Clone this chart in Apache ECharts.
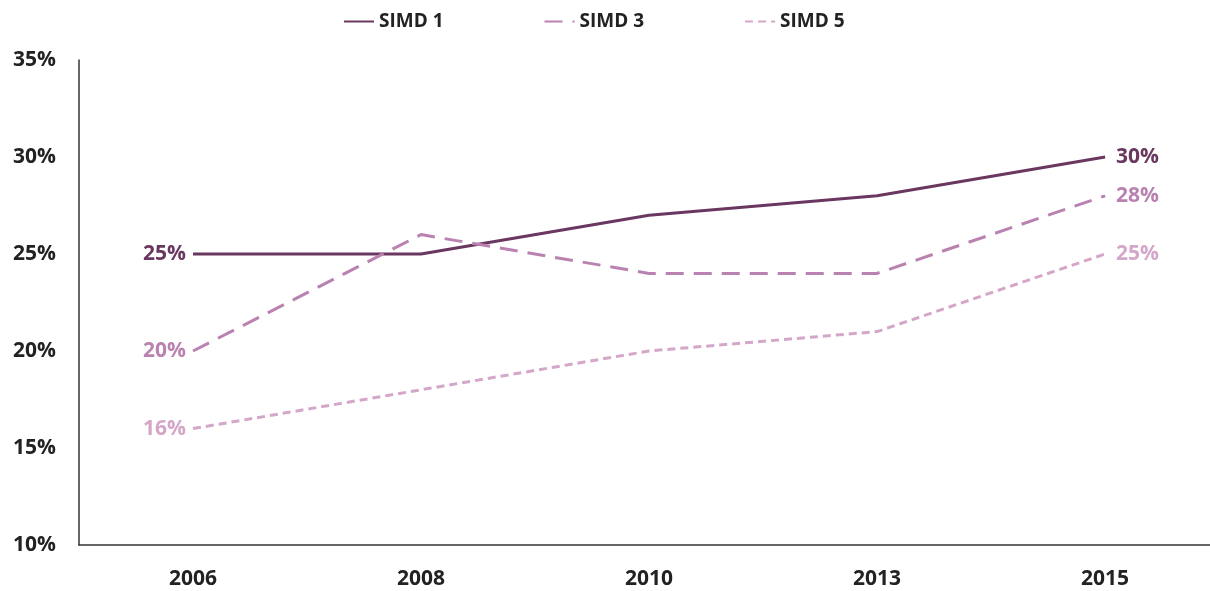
<!DOCTYPE html>
<html>
<head>
<meta charset="utf-8">
<script src="https://cdn.jsdelivr.net/npm/echarts@6/dist/echarts.min.js"></script>
<style>
html,body{margin:0;padding:0;background:#fff;}
#c{width:1210px;height:591px;}
</style>
</head>
<body>
<div id="c"></div>
<script>
const years = ['2006', '2008', '2010', '2013', '2015'];
const simd1 = [25, 25, 27, 28, 30];
const simd3 = [20, 26, 24, 24, 28];
const simd5 = [16, 18, 20, 21, 25];
const seriesNames = ['SIMD 1', 'SIMD 3', 'SIMD 5'];
const colors = ['#6a3760', '#b982b0', '#d4a7c9'];
const dashes = ['solid', [18, 10], [8, 5]];

function withLabels(values, color) {
  return values.map((v, i) => {
    const item = { value: [i, v] };
    if (i === 0 || i === values.length - 1) {
      item.label = {
        show: true,
        position: i === 0 ? 'left' : 'right',
        distance: i === 0 ? 7 : 11,
        formatter: v + '%',
        color: color,
        fontSize: 21,
        fontWeight: 'bold',
        fontFamily: 'Open Sans'
      };
    }
    return item;
  });
}

const chart = echarts.init(document.getElementById('c'));
const allData = [simd1, simd3, simd5];
chart.setOption({
  animation: false,
  backgroundColor: '#fff',
  legend: {
    top: 7,
    left: 338,
    itemWidth: 30,
    itemHeight: 14,
    itemGap: 100,
    itemStyle: { opacity: 0 },
    textStyle: { fontSize: 19, fontWeight: 'bold', color: '#222', fontFamily: 'Open Sans' },
    data: seriesNames
  },
  grid: { left: 79, right: 0, top: 60, bottom: 46, containLabel: false },
  xAxis: {
    type: 'value',
    min: -0.5,
    max: 4.46,
    splitLine: { show: false },
    axisLine: { onZero: false, lineStyle: { color: '#333', width: 1.5 } },
    axisTick: { show: false },
    axisLabel: {
      customValues: years.map((y, i) => i),
      formatter: v => years[Math.round(v)],
      margin: 24, fontSize: 21, fontWeight: 'bold', color: '#222', fontFamily: 'Open Sans'
    }
  },
  yAxis: {
    type: 'value',
    min: 10,
    max: 35,
    interval: 5,
    splitLine: { show: false },
    axisLine: { show: true, onZero: false, lineStyle: { color: '#333', width: 1.5 } },
    axisTick: { show: false },
    axisLabel: { margin: 23, formatter: '{value}%', fontSize: 21, fontWeight: 'bold', color: '#222', fontFamily: 'Open Sans' }
  },
  series: seriesNames.map((name, k) => ({
    name: name,
    type: 'line',
    data: withLabels(allData[k], colors[k]),
    color: colors[k],
    symbol: 'circle',
    symbolSize: 0,
    showSymbol: true,
    lineStyle: { color: colors[k], width: 3, type: dashes[k] },
    itemStyle: { color: colors[k] },
    emphasis: { disabled: true },
    silent: true
  }))
});
</script>
</body>
</html>
